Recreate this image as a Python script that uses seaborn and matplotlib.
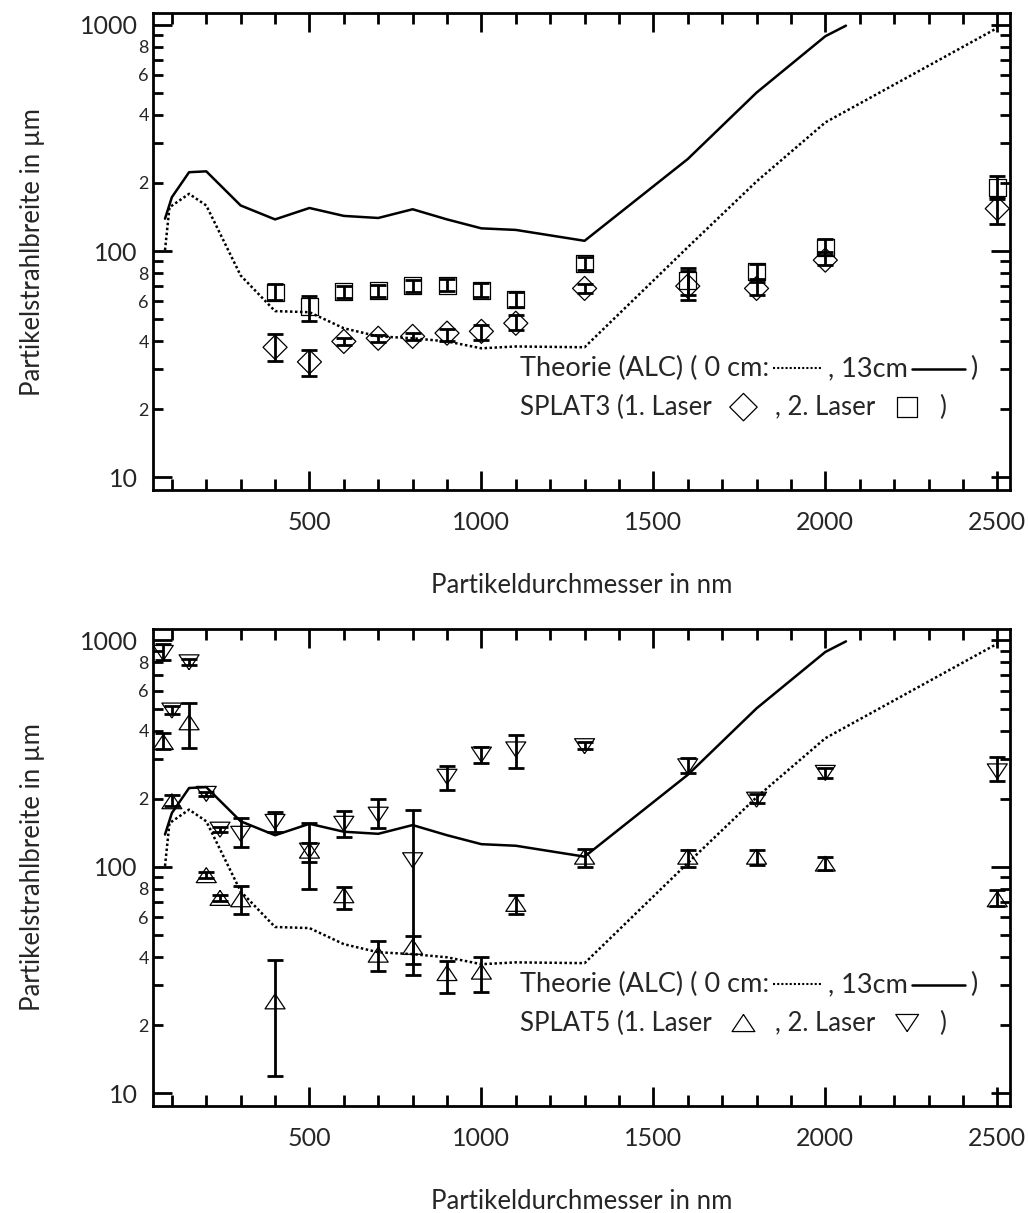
import numpy as np
import matplotlib
matplotlib.use("Agg")
import matplotlib.pyplot as plt
from matplotlib.ticker import FixedLocator, FuncFormatter, NullFormatter
import seaborn as sns

# Theorie (ALC), identisch in beiden Diagrammen
theo_x_0cm = [80, 93, 150, 200, 300, 400, 500, 600, 700, 800, 900, 1000, 1100, 1300, 1600, 1800, 2000, 2500]
theo_0cm = [101, 156, 179, 159, 78, 54.3, 53.7, 45.6, 42, 41.2, 39.9, 37.2, 37.9, 37.6, 104, 203, 370, 967]
theo_x_13cm = [80, 100, 150, 200, 300, 400, 500, 600, 700, 800, 900, 1000, 1100, 1300, 1600, 1800, 2000, 2060]
theo_13cm = [139, 173, 223, 225, 159, 138, 155, 143, 140, 153, 138, 126, 124, 111, 255, 501, 889, 990]

# SPLAT3
x_splat3 = [400, 500, 600, 700, 800, 900, 1000, 1100, 1300, 1600, 1800, 2000, 2500]
s3_laser1 = [37.6, 32.4, 39.9, 41.2, 42, 43.4, 44.2, 48, 68.4, 70, 68.4, 91.2, 154]
s3_laser1_lo = [32.6, 28.2, 38.5, 39.8, 40.5, 39.9, 40.6, 44.8, 65, 61, 64, 86.6, 132]
s3_laser1_hi = [43, 36.6, 41.5, 42.8, 43.6, 45.5, 47.2, 52, 71.7, 82, 75.6, 99.3, 173]
s3_laser2 = [65.8, 56.9, 66.2, 66.8, 70.3, 70.8, 67.3, 61.2, 88.1, 74, 81, 104, 191]
s3_laser2_lo = [60.8, 49, 62, 62.5, 66, 66.5, 62.5, 56.5, 82.5, 64, 73, 96, 170]
s3_laser2_hi = [71.3, 63.6, 70, 70.5, 74.5, 75, 72, 66, 94.2, 84, 87.5, 112.6, 215]

# SPLAT5
x_splat5 = [75, 100, 150, 200, 240, 300, 400, 500, 600, 700, 800, 900, 1000, 1100, 1300, 1600, 1800, 2000, 2500]
s5_laser1 = [356, 195, 435, 92, 73, 72, 25.5, 118, 75, 41, 44.4, 34, 34.5, 68.7, 111, 111, 111, 103.5, 72]
s5_laser1_lo = [332, 185, 335, 89, 71, 62, 11.9, 80, 65, 34.7, 37.4, 27.7, 28, 62, 100, 100, 102, 97, 67]
s5_laser1_hi = [392, 208, 528, 95, 75, 82, 39, 127, 81.5, 47, 49.4, 38.6, 40, 74.8, 120, 119, 119, 111, 79]
s5_laser2 = [880, 490, 800, 210, 146, 140, 158, 118, 155, 170, 107, 250, 313, 330, 341, 278, 198, 260, 264]
s5_laser2_lo = [820, 475, 775, 205, 142, 122, 143, 105, 136, 148, 33.3, 219, 288, 273, 330, 260, 191, 247, 239]
s5_laser2_hi = [960, 515, 830, 215, 150, 165, 175, 156, 177, 200, 179, 280, 338, 382, 356, 303, 209, 274, 305]

sns.set_theme(style="ticks")
plt.rcParams["font.family"] = ["Lato", "DejaVu Sans"]
plt.rcParams["axes.linewidth"] = 2

tri_up = [(0, 0.75), (-1, -0.75), (1, -0.75), (0, 0.75)]
tri_down = [(0, -0.75), (-1, 0.75), (1, 0.75), (0, -0.75)]


def minor_label(v, pos):
    d = int(round(v / 10 ** np.floor(np.log10(v))))
    return str(d) if d % 2 == 0 else ""


def draw_panel(ax, name, x, y1, lo1, hi1, y2, lo2, hi2, m1, m2, size1, size2):
    ax.set_yscale("log")
    sns.lineplot(x=theo_x_0cm, y=theo_0cm, ax=ax, color="black", lw=1.8,
                 linestyle=(0, (1, 1)), sort=False, estimator=None)
    sns.lineplot(x=theo_x_13cm, y=theo_13cm, ax=ax, color="black", lw=1.8,
                 sort=False, estimator=None)

    for y, lo, hi in [(y1, lo1, hi1), (y2, lo2, hi2)]:
        y = np.array(y)
        ax.errorbar(x, y, yerr=[y - np.array(lo), np.array(hi) - y], fmt="none",
                    ecolor="black", elinewidth=2, capsize=6, capthick=2, zorder=3)
    sns.scatterplot(x=x, y=y1, ax=ax, marker=m1, s=size1, facecolor="none",
                    edgecolor="black", linewidth=0.9, zorder=4)
    sns.scatterplot(x=x, y=y2, ax=ax, marker=m2, s=size2, facecolor="none",
                    edgecolor="black", linewidth=0.9, zorder=4)

    ax.set_xlim(45, 2537)
    ax.set_ylim(8.8, 1122)
    ax.xaxis.set_major_locator(FixedLocator([500, 1000, 1500, 2000, 2500]))
    ax.xaxis.set_minor_locator(FixedLocator(list(range(100, 2600, 100))))
    ax.xaxis.set_minor_formatter(NullFormatter())
    ax.yaxis.set_major_locator(FixedLocator([10, 100, 1000]))
    ax.yaxis.set_major_formatter(FuncFormatter(lambda v, p: f"{v:.0f}"))
    ax.yaxis.set_minor_locator(FixedLocator([d * m for m in (10, 100) for d in range(2, 10)]))
    ax.yaxis.set_minor_formatter(FuncFormatter(minor_label))

    ax.tick_params(axis="both", which="both", direction="in", top=True, right=True,
                   width=2, color="black")
    ax.tick_params(axis="x", which="major", length=14, pad=15, labelsize=18)
    ax.tick_params(axis="x", which="minor", length=8)
    ax.tick_params(axis="y", which="major", length=14, pad=11, labelsize=18)
    ax.tick_params(axis="y", which="minor", length=7.5, pad=3, labelsize=13)
    for sp in ax.spines.values():
        sp.set_linewidth(2)
        sp.set_color("black")

    ax.set_xlabel("Partikeldurchmesser in nm", fontsize=18.5)
    ax.set_ylabel("Partikelstrahlbreite in µm", fontsize=18.5)
    ax.xaxis.set_label_coords(0.5, -0.175)
    ax.yaxis.set_label_coords(-0.126, 0.5)

    # eingebettete Legende
    fs = 19.5
    y_a, y_b = 0.254, 0.174
    tr = ax.transAxes
    ax.text(0.428, y_a, "Theorie (ALC) ( 0 cm:", transform=tr, fontsize=fs, va="center")
    ax.plot([0.723, 0.782], [y_a + 0.002, y_a + 0.002], transform=tr, color="black",
            lw=1.5, linestyle=(0, (1, 1)), clip_on=False)
    ax.text(0.788, y_a, ", 13cm", transform=tr, fontsize=fs, va="center")
    ax.plot([0.886, 0.948], [y_a, y_a], transform=tr, color="black", lw=1.8, clip_on=False)
    ax.text(0.953, y_a, ")", transform=tr, fontsize=fs, va="center")

    fs2 = 18.5
    ax.text(0.428, y_b, name + " (1. Laser", transform=tr, fontsize=fs2, va="center")
    ax.scatter([0.689], [y_b], transform=tr, marker=m1, s=size1 * 1.3, facecolor="none",
               edgecolor="black", linewidth=0.9, clip_on=False)
    ax.text(0.726, y_b, ", 2. Laser", transform=tr, fontsize=fs2, va="center")
    ax.scatter([0.880], [y_b], transform=tr, marker=m2, s=size2 * 1.3, facecolor="none",
               edgecolor="black", linewidth=0.9, clip_on=False)
    ax.text(0.917, y_b, ")", transform=tr, fontsize=fs2, va="center")


fig = plt.figure(figsize=(10.28, 12.13), dpi=100)
ax1 = fig.add_axes([0.1488, 0.596, 0.8337, 0.393])
ax2 = fig.add_axes([0.1488, 0.0882, 0.8337, 0.3932])

draw_panel(ax1, "SPLAT3", x_splat3, s3_laser1, s3_laser1_lo, s3_laser1_hi,
           s3_laser2, s3_laser2_lo, s3_laser2_hi, "D", "s", 150, 150)
draw_panel(ax2, "SPLAT5", x_splat5, s5_laser1, s5_laser1_lo, s5_laser1_hi,
           s5_laser2, s5_laser2_lo, s5_laser2_hi, tri_up, tri_down, 207, 207)

fig.savefig("out.png", dpi=100)
